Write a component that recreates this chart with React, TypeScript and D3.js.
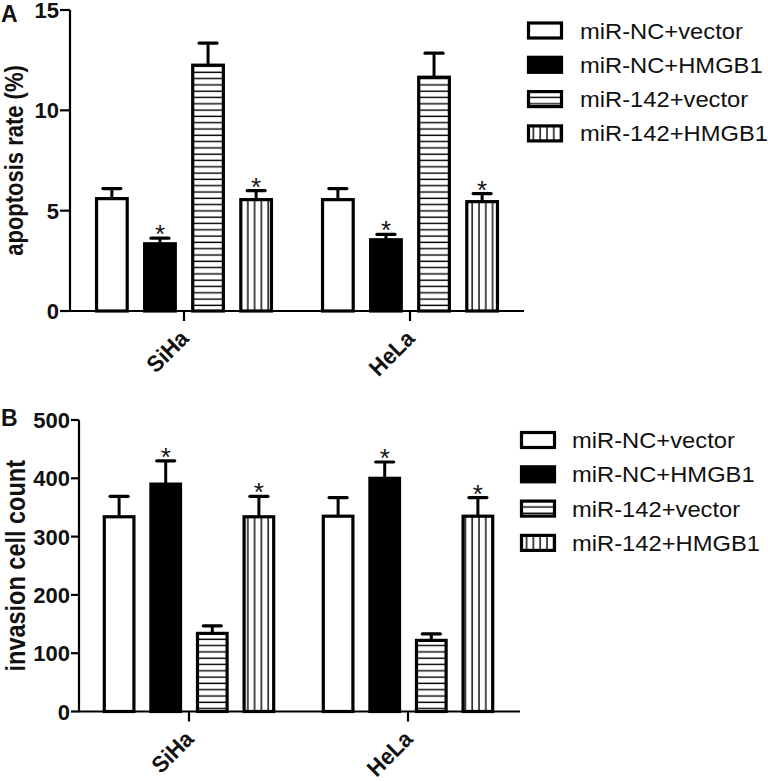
import React from "react";
import * as d3 from "d3";

const groups = ["SiHa", "HeLa"];
const series = ["miR-NC+vector", "miR-NC+HMGB1", "miR-142+vector", "miR-142+HMGB1"];

const apoptosisSiHa = [5.6, 3.35, 12.25, 5.55];
const apoptosisSiHaErr = [0.5, 0.28, 1.1, 0.45];
const apoptosisHeLa = [5.55, 3.55, 11.65, 5.45];
const apoptosisHeLaErr = [0.55, 0.27, 1.2, 0.4];

const invasionSiHa = [334, 390, 134, 334];
const invasionSiHaErr = [35, 40, 13, 35];
const invasionHeLa = [335, 400, 122, 335];
const invasionHeLaErr = [32, 28, 11, 32];

const significant = [false, true, false, true];
const apoptosisTicks = [0, 5, 10, 15];
const invasionTicks = [0, 100, 200, 300, 400, 500];

const seriesFill = ["#ffffff", "#000000", "url(#hstripe)", "url(#vstripe)"];
const FONT = "'Liberation Sans', Arial, Helvetica, sans-serif";

type PanelProps = {
  letter: string;
  letterY: number;
  title: string;
  titleSize: number;
  titleX: number;
  axisX: number;
  axisEnd: number;
  yTop: number;
  yBase: number;
  max: number;
  ticks: number[];
  tickLen: number;
  bandRange: [number, number];
  means: number[][];
  errs: number[][];
  legendX: number;
  legendY: number;
  legendTextX: number;
};

function Panel(p: PanelProps) {
  const y = d3.scaleLinear().domain([0, p.max]).range([p.yBase, p.yTop]);
  const gx = d3.scaleBand<string>().domain(groups).range(p.bandRange).paddingInner(0).paddingOuter(0);
  const bx = d3
    .scaleBand<string>()
    .domain(series)
    .range([0, gx.bandwidth()])
    .paddingInner(0.3)
    .paddingOuter(0.5);
  const bw = bx.bandwidth() - 3;
  const capW = 18;
  const titleCenter = (p.yTop + p.yBase) / 2;
  return (
    <g>
      <text x={1} y={p.letterY} fontFamily={FONT} fontWeight="bold" fontSize={23} fill="#111">
        {p.letter}
      </text>
      <text
        transform={`translate(${p.titleX},${titleCenter}) rotate(-90) scale(1,1.15)`}
        textAnchor="middle"
        fontFamily={FONT}
        fontWeight="bold"
        fontSize={p.titleSize}
        fill="#111"
      >
        {p.title}
      </text>
      {/* bars */}
      {groups.map((g, gi) =>
        series.map((s, si) => {
          const cx = (gx(g) as number) + (bx(s) as number) + bx.bandwidth() / 2;
          const v = p.means[gi][si];
          const e = p.errs[gi][si];
          const yv = y(v);
          const ye = y(v + e);
          return (
            <g key={g + s}>
              <line x1={cx} x2={cx} y1={yv} y2={ye} stroke="#000" strokeWidth={3} />
              <line x1={cx - capW / 2} x2={cx + capW / 2} y1={ye} y2={ye} stroke="#000" strokeWidth={3.2} strokeLinecap="round" />
              <rect x={cx - bw / 2} y={yv} width={bw} height={p.yBase - yv} fill={seriesFill[si]} stroke="#000" strokeWidth={3.2} />
              {significant[si] && (
                <text x={cx} y={ye + 5} textAnchor="middle" fontFamily={FONT} fontSize={26} fill="#111">
                  *
                </text>
              )}
            </g>
          );
        })
      )}
      {/* y axis */}
      <line x1={p.axisX} x2={p.axisX} y1={p.yTop} y2={p.yBase} stroke="#000" strokeWidth={2.2} />
      {p.ticks.map((t) => (
        <g key={t}>
          <line x1={p.axisX - p.tickLen} x2={p.axisX} y1={y(t)} y2={y(t)} stroke="#000" strokeWidth={2.2} />
          <text
            x={p.axisX - p.tickLen - 1}
            y={y(t) + 8}
            textAnchor="end"
            fontFamily={FONT}
            fontWeight="bold"
            fontSize={22}
            fill="#111"
          >
            {t}
          </text>
        </g>
      ))}
      {/* x axis */}
      <line x1={p.axisX - 1} x2={p.axisEnd} y1={p.yBase} y2={p.yBase} stroke="#000" strokeWidth={2.2} />
      {groups.map((g) => {
        const cx = (gx(g) as number) + gx.bandwidth() / 2;
        return (
          <g key={g}>
            <line x1={cx} x2={cx} y1={p.yBase} y2={p.yBase + 10} stroke="#000" strokeWidth={2.2} />
            <text
              transform={`translate(${cx + 6},${p.yBase + 29}) rotate(-45) scale(1.03,1.1)`}
              textAnchor="end"
              fontFamily={FONT}
              fontWeight="bold"
              fontSize={21}
              fill="#111"
            >
              {g}
            </text>
          </g>
        );
      })}
      {/* legend */}
      {series.map((s, si) => {
        const ry = p.legendY + si * 34.3;
        return (
          <g key={s}>
            <rect x={p.legendX + 1.5} y={ry - 7.5} width={33} height={15} fill={seriesFill[si]} stroke="#000" strokeWidth={3.2} />
            <text
              transform={`translate(${p.legendTextX},${ry + 8}) scale(1.12,1)`}
              fontFamily={FONT}
              fontSize={21.2}
              fill="#111"
            >
              {s}
            </text>
          </g>
        );
      })}
    </g>
  );
}

export default function App() {
  return (
    <svg
      width={768}
      height={781}
      viewBox="0 0 768 781"
      style={{ position: "absolute", left: 0, top: 0, background: "#fff" }}
    >
      <defs>
        <pattern id="hstripe" patternUnits="userSpaceOnUse" width={8} height={6.3}>
          <rect width={8} height={6.3} fill="#fff" />
          <line x1={0} x2={8} y1={3} y2={3} stroke="#000" strokeWidth={1.4} />
        </pattern>
        <pattern id="vstripe" patternUnits="userSpaceOnUse" width={6.8} height={8}>
          <rect width={6.8} height={8} fill="#fff" />
          <line x1={3} x2={3} y1={0} y2={8} stroke="#000" strokeWidth={1.4} />
        </pattern>
      </defs>
      <Panel
        letter="A"
        letterY={22}
        title="apoptosis rate (%)"
        titleSize={22}
        titleX={23}
        axisX={70}
        axisEnd={524}
        yTop={10}
        yBase={311}
        max={15}
        ticks={apoptosisTicks}
        tickLen={10}
        bandRange={[71, 523]}
        means={[apoptosisSiHa, apoptosisHeLa]}
        errs={[apoptosisSiHaErr, apoptosisHeLaErr]}
        legendX={527}
        legendY={30.5}
        legendTextX={580}
      />
      <Panel
        letter="B"
        letterY={426}
        title="invasion cell count"
        titleSize={23.5}
        titleX={25}
        axisX={79}
        axisEnd={520}
        yTop={420}
        yBase={711.5}
        max={500}
        ticks={invasionTicks}
        tickLen={8}
        bandRange={[79.5, 517.5]}
        means={[invasionSiHa, invasionHeLa]}
        errs={[invasionSiHaErr, invasionHeLaErr]}
        legendX={520}
        legendY={440}
        legendTextX={572}
      />
    </svg>
  );
}
